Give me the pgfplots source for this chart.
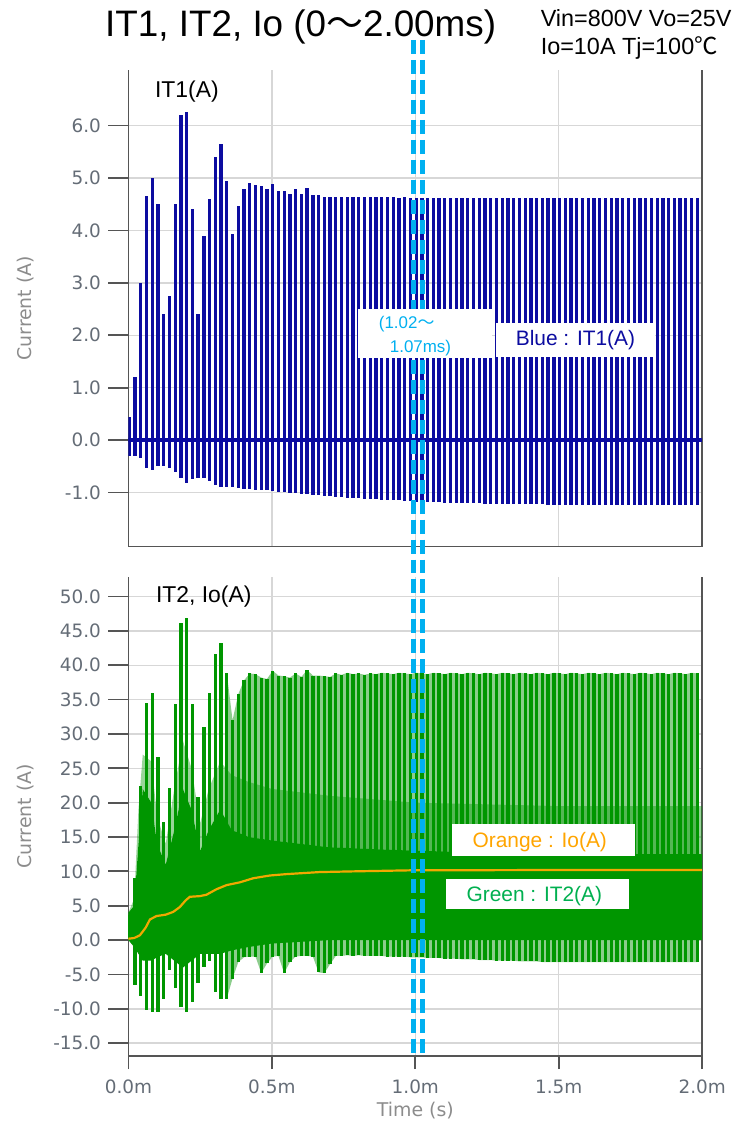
\documentclass[border=0pt]{standalone}
\usepackage{pgfplots}
\pgfplotsset{compat=1.18}
\usepackage{pgfplotstable}
\usepgfplotslibrary{fillbetween}
\usepackage{fontspec}
\setmainfont{Liberation Sans}
\newfontfamily\cjk{Noto Sans CJK JP}
\newfontfamily\dvs{DejaVu Sans}

\definecolor{itone}{RGB}{12,12,160}
\definecolor{ittwo}{RGB}{0,150,0}
\definecolor{itlight}{RGB}{140,205,140}
\definecolor{ioc}{RGB}{240,168,0}
\definecolor{cur}{RGB}{0,176,240}
\definecolor{lblgreen}{RGB}{0,176,80}
\definecolor{lblorange}{RGB}{255,165,0}
\definecolor{gridc}{RGB}{215,215,215}
\definecolor{axc}{RGB}{85,85,85}
\definecolor{tickc}{RGB}{100,108,118}
\definecolor{labc}{RGB}{140,140,140}

% IT1: time (ms), peak, trough of each switching pulse
\pgfplotstableread{
t hi lo
0.003 0.45 -0.30
0.023 1.20 -0.30
0.043 3.00 -0.34
0.063 4.65 -0.53
0.083 5.00 -0.57
0.103 4.50 -0.50
0.123 2.40 -0.50
0.143 2.75 -0.53
0.163 4.50 -0.60
0.183 6.20 -0.73
0.203 6.25 -0.82
0.223 4.40 -0.75
0.243 2.40 -0.72
0.263 3.90 -0.72
0.283 4.60 -0.78
0.303 5.40 -0.86
0.323 5.64 -0.90
0.343 4.95 -0.90
0.363 3.94 -0.90
0.383 4.46 -0.92
0.403 4.78 -0.93
0.423 4.90 -0.94
0.443 4.86 -0.95
0.463 4.84 -0.95
0.483 4.78 -0.96
0.503 4.88 -0.97
0.523 4.76 -0.98
0.543 4.76 -0.99
0.563 4.70 -1.00
0.583 4.78 -1.01
0.603 4.70 -1.02
0.623 4.80 -1.03
0.643 4.68 -1.04
0.663 4.68 -1.05
0.683 4.63 -1.06
0.703 4.64 -1.07
0.723 4.63 -1.08
0.743 4.64 -1.09
0.763 4.63 -1.10
0.783 4.64 -1.10
0.803 4.63 -1.11
0.823 4.64 -1.12
0.843 4.63 -1.12
0.863 4.63 -1.13
0.883 4.64 -1.14
0.903 4.63 -1.14
0.923 4.63 -1.15
0.943 4.62 -1.15
0.963 4.63 -1.16
0.983 4.62 -1.16
1.003 4.62 -1.17
1.023 4.62 -1.17
1.043 4.62 -1.18
1.063 4.62 -1.18
1.083 4.62 -1.18
1.103 4.61 -1.19
1.123 4.62 -1.19
1.143 4.61 -1.19
1.163 4.62 -1.20
1.183 4.61 -1.20
1.203 4.62 -1.20
1.223 4.61 -1.20
1.243 4.62 -1.21
1.263 4.61 -1.21
1.283 4.62 -1.21
1.303 4.61 -1.21
1.323 4.62 -1.21
1.343 4.61 -1.22
1.363 4.62 -1.22
1.383 4.61 -1.22
1.403 4.62 -1.22
1.423 4.61 -1.22
1.443 4.62 -1.22
1.463 4.61 -1.23
1.483 4.62 -1.23
1.503 4.61 -1.23
1.523 4.62 -1.23
1.543 4.61 -1.23
1.563 4.62 -1.23
1.583 4.61 -1.23
1.603 4.62 -1.23
1.623 4.61 -1.23
1.643 4.62 -1.23
1.663 4.61 -1.23
1.683 4.62 -1.23
1.703 4.61 -1.23
1.723 4.62 -1.23
1.743 4.61 -1.23
1.763 4.62 -1.23
1.783 4.61 -1.23
1.803 4.62 -1.23
1.823 4.61 -1.23
1.843 4.62 -1.23
1.863 4.61 -1.23
1.883 4.62 -1.23
1.903 4.61 -1.23
1.923 4.62 -1.23
1.943 4.61 -1.23
1.963 4.62 -1.23
1.983 4.61 -1.23
}\itonetab

% IT2: time (ms), peak, trough of each pulse
\pgfplotstableread{
t hi lo
0.003 3.6 0.0
0.023 9.0 -6.5
0.043 22.4 -8.2
0.063 34.5 -10.1
0.083 35.9 -10.4
0.103 26.6 -10.4
0.123 17.2 -8.6
0.143 22.1 -4.3
0.163 34.4 -7.0
0.183 46.2 -9.7
0.203 46.8 -10.4
0.223 34.4 -9.0
0.243 20.8 -6.3
0.263 31.0 -3.9
0.283 35.9 -3.0
0.303 41.7 -7.5
0.323 43.2 -8.6
0.343 38.8 -8.5
0.363 32.0 -5.6
0.383 35.8 -3.2
0.403 37.8 -2.5
0.423 38.8 -2.4
0.443 38.7 -2.4
0.463 38.2 -4.8
0.483 38.0 -3.4
0.503 39.2 -2.4
0.523 38.5 -2.3
0.543 38.4 -4.8
0.563 38.2 -3.2
0.583 38.8 -2.4
0.603 38.3 -2.3
0.623 39.3 -2.3
0.643 38.5 -2.4
0.663 38.5 -4.7
0.683 38.4 -4.8
0.703 38.3 -3.5
0.723 38.8 -2.3
0.743 38.6 -2.3
0.763 38.9 -2.2
0.783 38.7 -2.3
0.803 38.8 -2.2
0.823 38.6 -2.3
0.843 38.8 -2.3
0.863 38.7 -2.3
0.883 38.9 -2.3
0.903 38.8 -2.4
0.923 38.7 -2.4
0.943 38.9 -2.4
0.963 38.8 -2.4
0.983 38.7 -2.5
1.003 38.9 -2.5
1.023 38.8 -2.5
1.043 38.7 -2.6
1.063 38.9 -2.6
1.083 38.8 -2.6
1.103 38.7 -2.7
1.123 38.9 -2.7
1.143 38.8 -2.7
1.163 38.7 -2.8
1.183 38.9 -2.8
1.203 38.8 -2.8
1.223 38.7 -2.9
1.243 38.9 -2.9
1.263 38.8 -2.9
1.283 38.7 -3.0
1.303 38.9 -3.0
1.323 38.8 -3.0
1.343 38.7 -3.0
1.363 38.9 -3.1
1.383 38.8 -3.1
1.403 38.7 -3.1
1.423 38.9 -3.1
1.443 38.8 -3.2
1.463 38.7 -3.2
1.483 38.9 -3.2
1.503 38.8 -3.2
1.523 38.7 -3.2
1.543 38.9 -3.2
1.563 38.8 -3.2
1.583 38.7 -3.2
1.603 38.9 -3.2
1.623 38.8 -3.2
1.643 38.7 -3.2
1.663 38.9 -3.2
1.683 38.8 -3.2
1.703 38.7 -3.2
1.723 38.9 -3.2
1.743 38.8 -3.2
1.763 38.7 -3.2
1.783 38.9 -3.2
1.803 38.8 -3.2
1.823 38.7 -3.2
1.843 38.9 -3.2
1.863 38.8 -3.2
1.883 38.7 -3.2
1.903 38.9 -3.2
1.923 38.8 -3.2
1.943 38.7 -3.2
1.963 38.9 -3.2
1.983 38.8 -3.2
}\ittwotab

% IT2 dense ringing band: time, upper (solid), upper (half-dense), lower
\pgfplotstableread{
t U V L
0.000 4 4 0
0.020 5 6 -1
0.035 14 19 -2
0.050 22 27 -3
0.080 20 26 -3
0.100 14 18 -2.5
0.130 11 14 -2
0.160 16 22 -3
0.190 22 29 -4
0.220 19 25 -3
0.250 13 17 -2
0.280 16 22 -2
0.320 19 26 -2
0.360 16 24 -1.5
0.420 15 23 -1
0.500 14.5 22 -0.5
0.700 13.5 21 0
1.000 13 20 0
1.500 12.5 19.5 0
2.000 12.5 19.5 0
}\bandtab

% Io average current
\pgfplotstableread{
t io
0.000 0.2
0.020 0.3
0.040 0.7
0.060 1.8
0.075 3.0
0.098 3.5
0.130 3.7
0.156 4.1
0.179 4.8
0.200 5.8
0.214 6.3
0.249 6.4
0.272 6.6
0.307 7.4
0.342 8.0
0.388 8.4
0.435 9.0
0.493 9.4
0.551 9.6
0.667 9.9
0.783 10.0
0.980 10.15
1.500 10.2
2.000 10.2
}\iotab

\pgfplotsset{myax/.style={
  scale only axis, anchor=south west, width=574.2bp,
  xmin=0, xmax=2,
  axis x line*=bottom, axis y line*=box,
  axis line style={draw=axc, line width=1.8bp},
  xtick={0,0.5,1,1.5,2},
  ytick pos=left,
  tick align=outside,
  major tick length=20bp,
  tick style={draw=axc, line width=1.8bp},
  grid=major, major grid style={draw=gridc, line width=1.4bp},
  tick label style={font=\dvs\fontsize{18.5}{20}\selectfont, text=tickc},
  yticklabel style={xshift=-4bp},
  /pgf/number format/assume math mode=true,
  ylabel={Current (A)},
  ylabel style={font=\dvs\fontsize{19}{22}\selectfont, text=labc,
     at={(axis description cs:-0.18,0.5)}, anchor=center},
}}

\begin{document}
\begin{tikzpicture}
\path (0,0) rectangle (739bp,1122bp);

% ---------- top: IT1 ----------
\begin{axis}[myax, at={(128.5bp,575bp)}, height=477bp,
  ymin=-2.03, ymax=7.06,
  xticklabels={}, xtick style={draw=none},
  ytick={-1,0,1,2,3,4,5,6},
  yticklabels={-1.0,0.0,1.0,2.0,3.0,4.0,5.0,6.0}]
\addplot[ycomb, itone, line width=3.3bp] table[x=t, y=hi] {\itonetab};
\addplot[ycomb, itone, line width=3.3bp] table[x=t, y=lo] {\itonetab};
\addplot[itone, line width=4bp] coordinates {(0,0) (2,0)};
\end{axis}

% ---------- bottom: IT2, Io ----------
\begin{axis}[myax, at={(128.5bp,65bp)}, height=480bp,
  ymin=-16.9, ymax=52.9, clip=false,
  xticklabels={0.0m,0.5m,1.0m,1.5m,2.0m},
  xtick style={/pgfplots/major tick length=13bp},
  ytick={-15,-10,-5,0,5,10,15,20,25,30,35,40,45,50},
  yticklabels={-15.0,-10.0,-5.0,0.0,5.0,10.0,15.0,20.0,25.0,30.0,35.0,40.0,45.0,50.0},
  xlabel={Time (s)},
  xlabel style={font=\dvs\fontsize{19}{22}\selectfont, text=labc,
     at={(axis description cs:0.5,-0.125)}, anchor=base}]
\addplot[name path=A, draw=none, forget plot, restrict x to domain=0.33:2] table[x=t, y=hi] {\ittwotab};
\addplot[name path=B, draw=none, forget plot, restrict x to domain=0.33:2] table[x=t, y=lo] {\ittwotab};
\addplot[itlight, forget plot] fill between[of=A and B];
\addplot[name path=C, draw=none, forget plot] table[x=t, y=U] {\bandtab};
\addplot[name path=E, draw=none, forget plot] table[x=t, y=V] {\bandtab};
\addplot[name path=D, draw=none, forget plot] table[x=t, y=L] {\bandtab};
\addplot[ittwo, fill opacity=0.4, forget plot] fill between[of=E and C];
\addplot[ittwo, forget plot] fill between[of=C and D];
\addplot[ycomb, ittwo, line width=3.3bp] table[x=t, y=hi] {\ittwotab};
\addplot[ycomb, ittwo, line width=3.3bp] table[x=t, y=lo] {\ittwotab};
\addplot[ioc, line width=2.2bp] table[x=t, y=io] {\iotab};
\draw[cur, line width=5bp, dash pattern=on 14bp off 6bp] (axis cs:0.992,131) -- (axis cs:0.992,-16.9);
\draw[cur, line width=5bp, dash pattern=on 14bp off 6bp] (axis cs:1.025,131) -- (axis cs:1.025,-16.9);
\end{axis}

% ---------- texts ----------
\node[anchor=base west, inner sep=0, font=\fontsize{37}{44}\selectfont] at (105bp,1085bp) {IT1, IT2, Io (0{\cjk ～}2.00ms)};
\node[anchor=base west, inner sep=0, font=\fontsize{23.5}{28}\selectfont] at (541bp,1095bp) {Vin=800V Vo=25V};
\node[anchor=base west, inner sep=0, font=\fontsize{23.5}{28}\selectfont] at (541bp,1067bp) {Io=10A Tj=100{\cjk ℃}};
\node[anchor=base west, inner sep=0, font=\fontsize{23}{28}\selectfont] at (155bp,1024bp) {IT1(A)};
\node[anchor=base west, inner sep=0, font=\fontsize{23}{28}\selectfont] at (156bp,519bp) {IT2, Io(A)};

\fill[white] (358bp,764bp) rectangle (492bp,813bp);
\node[anchor=base west, inner sep=0, text=cur, font=\fontsize{17}{20}\selectfont] at (379bp,793bp) {(1.02{\cjk ～}};
\node[anchor=base west, inner sep=0, text=cur, font=\fontsize{17}{20}\selectfont] at (390bp,769bp) {1.07ms)};
\fill[white] (496bp,765bp) rectangle (655bp,799bp);
\node[anchor=base west, inner sep=0, text=itone, font=\fontsize{21}{24}\selectfont] at (516bp,776bp) {Blue : IT1(A)};
\fill[white] (452.7bp,265.3bp) rectangle (635bp,297bp);
\node[anchor=base west, inner sep=0, text=lblorange, font=\fontsize{21}{24}\selectfont] at (472.7bp,273.7bp) {Orange : Io(A)};
\fill[white] (446.7bp,212bp) rectangle (629bp,242.7bp);
\node[anchor=base west, inner sep=0, text=lblgreen, font=\fontsize{21}{24}\selectfont] at (466.7bp,220.3bp) {Green : IT2(A)};
\end{tikzpicture}
\end{document}
